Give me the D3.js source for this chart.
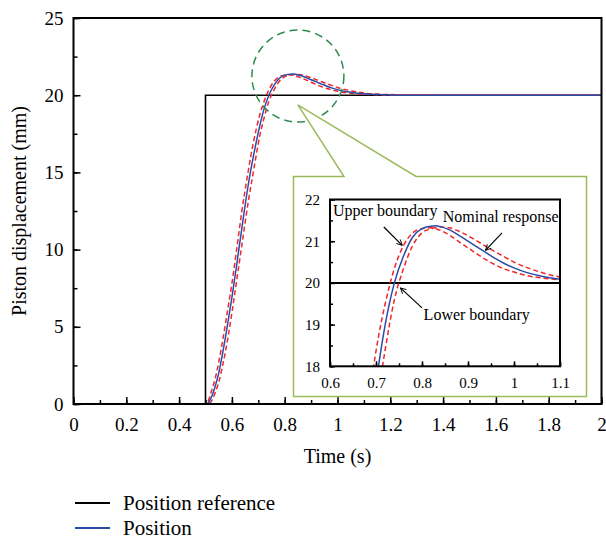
<!DOCTYPE html>
<html>
<head>
<meta charset="utf-8">
<script src="https://cdn.jsdelivr.net/npm/d3@7"></script>
<style>
  body { margin: 0; background: #fff; }
  svg { display: block; font-family: "Liberation Serif", "Times New Roman", serif; }
</style>
</head>
<body>
<div id="chart"></div>
<script>
// data
const times      = [0, 0.5, 0.51, 0.52, 0.536, 0.55, 0.565, 0.586, 0.6, 0.618, 0.637, 0.662, 0.681, 0.706, 0.72, 0.74, 0.76, 0.78, 0.8, 0.82, 0.83, 0.84, 0.86, 0.88, 0.9, 0.92, 0.94, 0.96, 0.98, 1.0, 1.03, 1.06, 1.1, 1.15, 1.2, 1.3, 1.5, 2.0]
const position   = [0, 0, 0.08, 0.35, 1.1, 2.0, 3.3, 5.4, 6.9, 9.0, 11.3, 14.2, 16.0, 18.05, 19.0, 20.0, 20.65, 21.1, 21.3, 21.36, 21.37, 21.35, 21.27, 21.14, 21.0, 20.86, 20.72, 20.58, 20.46, 20.36, 20.24, 20.16, 20.09, 20.04, 20.02, 20.0, 20.0, 20.0]
const upperBound = [0, 0, 0.2, 0.7, 1.6, 2.7, 4.1, 6.3, 7.8, 10.0, 12.4, 15.1, 16.9, 18.75, 19.5, 20.35, 20.9, 21.2, 21.3, 21.32, 21.3, 21.26, 21.14, 20.99, 20.84, 20.69, 20.55, 20.43, 20.33, 20.26, 20.17, 20.12, 20.07, 20.03, 20.01, 20.0, 20.0, 20.0]
const lowerBound = [0, 0, 0.02, 0.12, 0.7, 1.4, 2.5, 4.4, 5.9, 8.0, 10.2, 13.1, 15.0, 17.4, 18.4, 19.6, 20.35, 20.9, 21.2, 21.3, 21.33, 21.34, 21.32, 21.24, 21.13, 21.0, 20.87, 20.74, 20.62, 20.5, 20.36, 20.25, 20.14, 20.07, 20.04, 20.01, 20.0, 20.0]
const refTimes  = [0, 0.5, 0.5, 2]
const refValues = [0, 0, 20, 20]

const xTicks = [0, 0.2, 0.4, 0.6, 0.8, 1, 1.2, 1.4, 1.6, 1.8, 2]
const yTicks = [0, 5, 10, 15, 20, 25]
const insetXTicks = [0.6, 0.7, 0.8, 0.9, 1, 1.1]
const insetYTicks = [18, 19, 20, 21, 22]

const legendNames = ["Position reference", "Position"]

const zoomCenter = [0.85, 21.24]   // dashed circle, main chart coords
const calloutTip = [0.85, 19.37]

const width = 606, height = 540
const margin = { top: 18, right: 4.5, bottom: 136, left: 73.5 }
const blue = "#2b4ba6", red = "#f0262a", green = "#2e8b4e", olive = "#9bbb59"
const serif = "Liberation Serif, Times New Roman, serif"

const svg = d3.select("#chart").append("svg")
  .attr("width", width)
  .attr("height", height)
  .attr("font-family", serif)

const x = d3.scaleLinear().domain([0, 2]).range([margin.left, width - margin.right])
const y = d3.scaleLinear().domain([0, 25]).range([height - margin.bottom, margin.top])

svg.append("clipPath").attr("id", "mainClip")
  .append("rect")
  .attr("x", x(0)).attr("y", y(25))
  .attr("width", x(2) - x(0)).attr("height", y(0) - y(25))

// axes (ticks inward)
function styleAxis(g, size) {
  g.select(".domain").remove()
  g.attr("font-family", serif).attr("font-size", size || 10)
  g.selectAll(".tick line").attr("stroke", "#000").attr("stroke-width", 1.5)
  g.selectAll("text").attr("fill", "#000").attr("font-family", serif)
}

svg.append("g")
  .attr("transform", `translate(0,${y(0)})`)
  .call(d3.axisBottom(x).tickValues(d3.range(0, 21).map(d => d / 10)).tickSizeInner(-4).tickSizeOuter(0).tickFormat(""))
  .call(styleAxis)
svg.append("g")
  .attr("transform", `translate(0,${y(0)})`)
  .call(d3.axisBottom(x).tickValues(xTicks).tickSizeInner(-7).tickSizeOuter(0).tickPadding(14).tickFormat(d3.format("~g")))
  .call(styleAxis, 19)

svg.append("g")
  .attr("transform", `translate(${x(0)},0)`)
  .call(d3.axisLeft(y).tickValues(d3.range(0, 11).map(d => d * 2.5)).tickSizeInner(-4).tickSizeOuter(0).tickFormat(""))
  .call(styleAxis)
svg.append("g")
  .attr("transform", `translate(${x(0)},0)`)
  .call(d3.axisLeft(y).tickValues(yTicks).tickSizeInner(-7).tickSizeOuter(0).tickPadding(10).tickFormat(d3.format("~g")))
  .call(styleAxis, 19)

// curves
const line = d3.line().curve(d3.curveMonotoneX)
const refLine = d3.line()

const plot = svg.append("g").attr("clip-path", "url(#mainClip)")
plot.append("path")
  .attr("d", refLine(refTimes.map((t, i) => [x(t), y(refValues[i])])))
  .attr("fill", "none").attr("stroke", "#000").attr("stroke-width", 1.6)
;[upperBound, lowerBound].forEach(vals => {
  plot.append("path")
    .attr("d", line(times.map((t, i) => [x(t), y(vals[i])])))
    .attr("fill", "none").attr("stroke", red).attr("stroke-width", 1.5)
    .attr("stroke-dasharray", "5,3")
})
plot.append("path")
  .attr("d", line(times.map((t, i) => [x(t), y(position[i])])))
  .attr("fill", "none").attr("stroke", blue).attr("stroke-width", 1.5)

// frame
svg.append("rect")
  .attr("x", x(0)).attr("y", y(25))
  .attr("width", x(2) - x(0)).attr("height", y(0) - y(25))
  .attr("fill", "none").attr("stroke", "#000").attr("stroke-width", 2)

// zoom circle
svg.append("circle")
  .attr("cx", x(zoomCenter[0])).attr("cy", y(zoomCenter[1])).attr("r", 46)
  .attr("fill", "none").attr("stroke", green).attr("stroke-width", 1.5)
  .attr("stroke-dasharray", "8,5")

// inset callout box
const box = { left: 293.5, top: 176.5, right: 586.5, bottom: 396.5, notchL: 344, notchR: 416 }
const tip = [x(calloutTip[0]), y(calloutTip[1])]
svg.append("path")
  .attr("d", `M${box.left},${box.top}L${box.notchL},${box.top}L${tip[0]},${tip[1]}L${box.notchR},${box.top}L${box.right},${box.top}L${box.right},${box.bottom}L${box.left},${box.bottom}Z`)
  .attr("fill", "#fff").attr("stroke", olive).attr("stroke-width", 1.5)

// inset chart
const ix = d3.scaleLinear().domain([0.6, 1.1]).range([330, 560])
const iy = d3.scaleLinear().domain([18, 22]).range([366.3, 199.5])

svg.append("clipPath").attr("id", "insetClip")
  .append("rect")
  .attr("x", ix(0.6)).attr("y", iy(22))
  .attr("width", ix(1.1) - ix(0.6)).attr("height", iy(18) - iy(22))

const inset = svg.append("g")

inset.append("g")
  .attr("transform", `translate(0,${iy(18)})`)
  .call(d3.axisBottom(ix).tickValues(d3.range(12, 23).map(d => d / 20)).tickSizeInner(-3).tickSizeOuter(0).tickFormat(""))
  .call(styleAxis)
inset.append("g")
  .attr("transform", `translate(0,${iy(18)})`)
  .call(d3.axisBottom(ix).tickValues(insetXTicks).tickSizeInner(-5).tickSizeOuter(0).tickPadding(11).tickFormat(d3.format("~g")))
  .call(styleAxis, 15)
inset.append("g")
  .attr("transform", `translate(${ix(0.6)},0)`)
  .call(d3.axisLeft(iy).tickValues(d3.range(36, 45).map(d => d / 2)).tickSizeInner(-3).tickSizeOuter(0).tickFormat(""))
  .call(styleAxis)
inset.append("g")
  .attr("transform", `translate(${ix(0.6)},0)`)
  .call(d3.axisLeft(iy).tickValues(insetYTicks).tickSizeInner(-5).tickSizeOuter(0).tickPadding(10).tickFormat(d3.format("~g")))
  .call(styleAxis, 15)

const iplot = inset.append("g").attr("clip-path", "url(#insetClip)")
iplot.append("path")
  .attr("d", refLine(refTimes.map((t, i) => [ix(t), iy(refValues[i])])))
  .attr("fill", "none").attr("stroke", "#000").attr("stroke-width", 2)
;[upperBound, lowerBound].forEach(vals => {
  iplot.append("path")
    .attr("d", line(times.map((t, i) => [ix(t), iy(vals[i])])))
    .attr("fill", "none").attr("stroke", red).attr("stroke-width", 1.5)
    .attr("stroke-dasharray", "5,3")
})
iplot.append("path")
  .attr("d", line(times.map((t, i) => [ix(t), iy(position[i])])))
  .attr("fill", "none").attr("stroke", blue).attr("stroke-width", 1.5)

inset.append("rect")
  .attr("x", ix(0.6)).attr("y", iy(22))
  .attr("width", ix(1.1) - ix(0.6)).attr("height", iy(18) - iy(22))
  .attr("fill", "none").attr("stroke", "#000").attr("stroke-width", 2)

// annotations inside inset
const notes = [
  { text: "Upper boundary", at: [0.6065, 21.6], from: [0.717, 21.34], to: [0.757, 20.9] },
  { text: "Nominal response", at: [0.845, 21.46], from: [0.974, 21.2], to: [0.938, 20.78] },
  { text: "Lower boundary", at: [0.8035, 19.1], from: [0.8, 19.4], to: [0.753, 19.88] }
]

svg.append("defs").append("marker")
  .attr("id", "arrow")
  .attr("viewBox", "0 0 10 10").attr("refX", 9).attr("refY", 5)
  .attr("markerWidth", 7).attr("markerHeight", 7).attr("markerUnits", "userSpaceOnUse")
  .attr("orient", "auto")
  .append("path").attr("d", "M1,1L9,5L1,9")
  .attr("fill", "none").attr("stroke", "#000").attr("stroke-width", 1.3)

notes.forEach(n => {
  inset.append("line")
    .attr("x1", ix(n.from[0])).attr("y1", iy(n.from[1]))
    .attr("x2", ix(n.to[0])).attr("y2", iy(n.to[1]))
    .attr("stroke", "#000").attr("stroke-width", 1.2)
    .attr("marker-end", "url(#arrow)")
  inset.append("text")
    .attr("x", ix(n.at[0])).attr("y", iy(n.at[1]))
    .attr("font-size", 16).attr("fill", "#000")
    .text(n.text)
})

// axis titles
svg.append("text")
  .attr("x", (x(0) + x(2)) / 2).attr("y", 463)
  .attr("text-anchor", "middle").attr("font-size", 20)
  .text("Time (s)")
svg.append("text")
  .attr("transform", `translate(26,${(y(0) + y(25)) / 2}) rotate(-90)`)
  .attr("text-anchor", "middle").attr("font-size", 20)
  .text("Piston displacement (mm)")

// legend
const legend = svg.append("g").attr("transform", "translate(75,503)")
legend.selectAll("g")
  .data(legendNames)
  .enter().append("g")
  .attr("transform", (d, i) => `translate(0,${i * 25})`)
  .each(function (d, i) {
    const g = d3.select(this)
    g.append("line").attr("x1", 0).attr("x2", 35)
      .attr("stroke", i === 0 ? "#000" : blue).attr("stroke-width", 2)
    g.append("text").attr("x", 48).attr("y", 6.5)
      .attr("font-size", 21).text(d)
  })
</script>
</body>
</html>
